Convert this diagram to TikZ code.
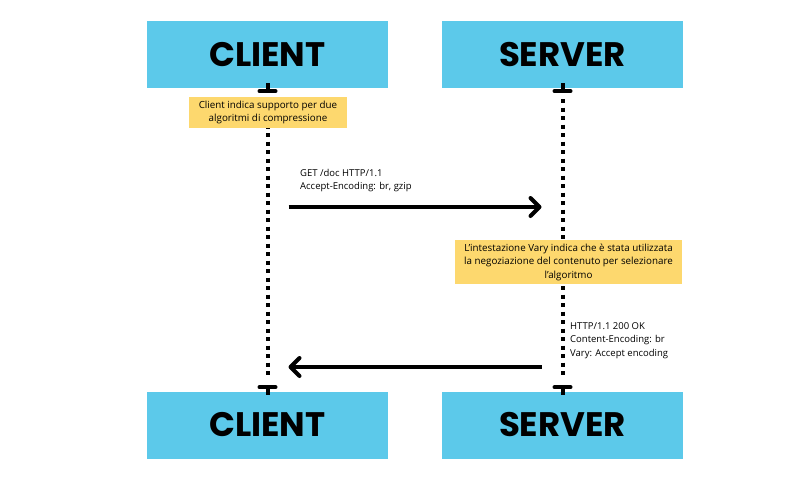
\documentclass[tikz,border=0pt]{standalone}
\usepackage{fontspec}
\setmainfont{Open Sans}
\newfontfamily\titlefont{Poppins}
\usetikzlibrary{arrows.meta}
\definecolor{actorcolor}{RGB}{92,201,234}
\definecolor{notecolor}{RGB}{253,216,110}
\tikzset{
  %% actor : the client / server boxes
  actor/.style={
    rectangle,
    fill=actorcolor,
    minimum width=241pt,
    minimum height=67pt,
    inner sep=0pt,
    font=\titlefont\bfseries\fontsize{34}{38}\selectfont
  },
  %% note : a yellow comment box
  note/.style={
    rectangle,
    fill=notecolor,
    inner sep=0pt,
    align=center,
    font=\fontsize{9.8}{13.5}\selectfont
  },
  %% msg : the text of a message
  msg/.style={
    anchor=north west,
    inner sep=0pt,
    align=left,
    font=\fontsize{9.5}{13.5}\selectfont
  },
  %% lifeline : dotted line below an actor
  lifeline/.style={
    line width=4pt,
    dash pattern=on 4pt off 4.5pt
  },
  %% endbar : the bar at each end of a lifeline
  endbar/.style={line width=4pt, line cap=round},
  %% call : a message arrow
  call/.style={
    line width=4pt,
    -{Straight Barb[length=9pt,width=18pt,round]},
    shorten <=21pt,
    shorten >=21pt
  }
}
\begin{document}
\begin{tikzpicture}[x=1pt, y=-1pt]
  \useasboundingbox (0,0) rectangle (800,480);

  %% Actors
  \node (clienttop) [actor] at (267.5,54.5) {CLIENT};
  \node (servertop) [actor] at (562.5,54.5) {SERVER};
  \node (clientbot) [actor] at (267.5,425) {CLIENT};
  \node (serverbot) [actor] at (562.5,425) {SERVER};

  %% Lifelines
  \coordinate (clientstart) at ([yshift=-3pt]clienttop.south);
  \coordinate (clientend) at ([yshift=4pt]clientbot.north);
  \coordinate (serverstart) at ([yshift=-3pt]servertop.south);
  \coordinate (serverend) at ([yshift=4pt]serverbot.north);
  \draw [lifeline] ([yshift=-8pt]clientstart) -- ([yshift=8pt]clientend);
  \draw [lifeline] ([yshift=-8pt]serverstart) -- ([yshift=8pt]serverend);
  \foreach \c in {clientstart, clientend, serverstart, serverend}{
    \draw [endbar] ([xshift=-8pt]\c) -- ([xshift=8pt]\c);
  }
  \draw [endbar, line cap=butt] (clientstart) -- ++(0,-8);
  \draw [endbar, line cap=butt] (clientend) -- ++(0,8);
  \draw [endbar, line cap=butt] (serverstart) -- ++(0,-8);
  \draw [endbar, line cap=butt] (serverend) -- ++(0,8);

  %% Notes
  \node (clientnote) [note, minimum width=158pt, minimum height=31pt]
  at (268,112.5) {%
    Client indica supporto per due\\
    algoritmi di compressione
  };
  \node (servernote) [note, minimum width=227pt, minimum height=44pt]
  at (568.5,262) {%
    L'intestazione Vary indica che è stata utilizzata\\
    la negoziazione del contenuto per selezionare\\
    l'algoritmo
  };

  %% Messages
  \coordinate (reqc) at (clientstart |- 0,207);
  \coordinate (reqs) at (serverstart |- 0,207);
  \draw [call] (reqc) -- (reqs);
  \node (reqtext) [msg] at (300,169) {%
    GET /doc HTTP/1.1\\
    Accept-Encoding: br, gzip
  };

  \coordinate (resc) at (clientstart |- 0,367);
  \coordinate (ress) at (serverstart |- 0,367);
  \draw [call] (ress) -- (resc);
  \node (restext) [msg] at (570,322) {%
    HTTP/1.1 200 OK\\
    Content-Encoding: br\\
    Vary: Accept encoding
  };

\end{tikzpicture}
\end{document}
